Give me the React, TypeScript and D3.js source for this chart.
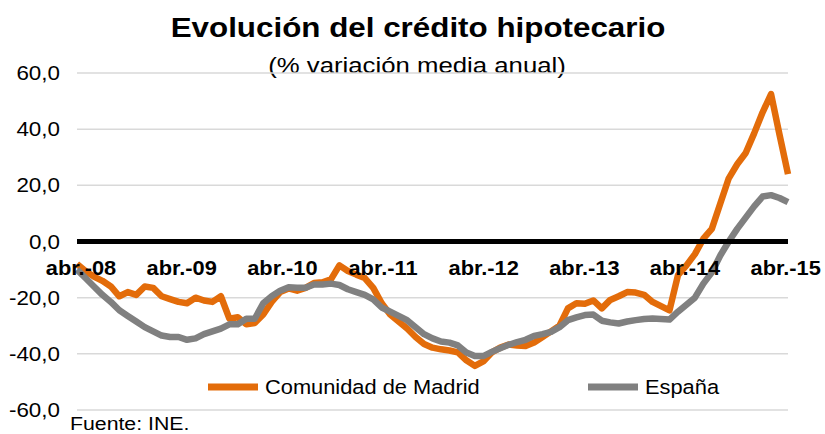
import React from "react";
import * as d3 from "d3";

const TITLE = "Evolución del crédito hipotecario";
const SUBTITLE = "(% variación media anual)";
const SOURCE = "Fuente: INE.";
const SERIES_NAMES = ["Comunidad de Madrid", "España"];

// monthly, abr.-08 .. abr.-15 (85 points)
const madrid = [
  -8, -10.5, -12.5, -14, -16, -19.5, -18, -19, -16, -16.5, -19.5, -20.5, -21.5,
  -22, -20, -21, -21.5, -19.5, -27.5, -27, -29.5, -29, -26, -21.5, -18,
  -16.7, -17.5, -16.5, -14.8, -14.5, -13.5, -8.5, -10.5, -11.8, -13, -16.5, -22,
  -26, -28.5, -31, -34, -36.5, -37.8, -38.4, -38.8, -39.5, -42.3, -44.3, -42.7,
  -39.5, -37.8, -36.7, -37, -37.2, -36, -34, -32, -30, -23.8, -22, -22.2,
  -21, -23.8, -20.8, -19.5, -18, -18.2, -19, -21.5, -23, -24.5, -12, -8.5,
  -4.5, 1, 4.5, 13.5, 22.5, 27.5, 31.5, 38.5, 46, 52.5, 38, 24,
];
const espana = [
  -10, -13, -16, -19, -21.5, -24.5, -26.5, -28.5, -30.5, -32, -33.5, -34, -34,
  -35, -34.5, -33, -32, -31, -29.5, -29.5, -27.5, -27.5, -22, -19.5, -17.5,
  -16.3, -16.5, -16.5, -15.3, -15.3, -15, -15.5, -17, -18, -19, -20.6, -23.5,
  -25, -26.5, -28, -30.5, -33, -34.5, -35.6, -36, -37, -39.5, -40.8, -40.8,
  -39.3, -38, -36.8, -35.8, -35, -33.6, -33, -32.2, -30.5, -28, -27, -26.2,
  -26, -28.2, -28.8, -29.2, -28.5, -28, -27.6, -27.4, -27.6, -27.8, -25, -22.5,
  -20, -15, -11, -5, 0, 4.5, 8.5, 12.5, 16, 16.5, 15.5, 14,
];
const xTickLabels = ["abr.-08", "abr.-09", "abr.-10", "abr.-11", "abr.-12", "abr.-13", "abr.-14", "abr.-15"];
const yTicks = [60, 40, 20, 0, -20, -40, -60];

const W = 825;
const H = 434;
const SX = 1.12;
const FONT = "'Liberation Sans', Arial, Helvetica, sans-serif";

function T({ x, y, children, size, weight = "normal", anchor = "start", sx = SX }: any) {
  return (
    <g transform={`translate(${x},${y}) scale(${sx},1)`}>
      <text x={0} y={0} fontSize={size} fontWeight={weight} textAnchor={anchor} fontFamily={FONT} fill="#000">
        {children}
      </text>
    </g>
  );
}

export default function App() {
  const x = d3.scaleLinear().domain([0, madrid.length - 1]).range([77, 788]);
  const y = d3.scaleLinear().domain([-60, 60]).range([410, 73]);
  const line = d3
    .line<number>()
    .x((_, i) => x(i))
    .y((d) => y(d));
  const fmt = (v: number) => v.toFixed(1).replace(".", ",");

  return (
    <svg width={W} height={H} style={{ position: "absolute", left: 0, top: 0, background: "#fff" }}>
      <rect width={W} height={H} fill="#fff" />
      <T x={418} y={37} size={28} weight="bold" anchor="middle">{TITLE}</T>
      <T x={417} y={73} size={23} anchor="middle">{SUBTITLE}</T>

      {yTicks.filter((t) => t !== 0).map((t) => (
        <line key={t} x1={x.range()[0]} x2={x.range()[1]} y1={y(t)} y2={y(t)} stroke="#d9d9d9" strokeWidth={1.5} />
      ))}
      {yTicks.map((t) => (
        <T key={"l" + t} x={60} y={y(t) + 7} size={20} anchor="end">{fmt(t)}</T>
      ))}

      <path d={line(madrid) || ""} fill="none" stroke="#E36C0A" strokeWidth={6.5} strokeLinejoin="round" />
      <path d={line(espana) || ""} fill="none" stroke="#808080" strokeWidth={6.5} strokeLinejoin="round" />

      <line x1={x.range()[0]} x2={x.range()[1]} y1={y(0)} y2={y(0)} stroke="#000" strokeWidth={5} />

      {xTickLabels.map((lab, k) => (
        <T key={lab} x={x(k * 12) + 4 - k * 0.9} y={275} size={19.5} weight="bold" anchor="middle">{lab}</T>
      ))}

      <line x1={208} x2={258} y1={387} y2={387} stroke="#E36C0A" strokeWidth={7} />
      <T x={265} y={394} size={19.5}>{SERIES_NAMES[0]}</T>
      <line x1={588} x2={638} y1={387} y2={387} stroke="#808080" strokeWidth={7} />
      <T x={645} y={394} size={19.5}>{SERIES_NAMES[1]}</T>

      <T x={70} y={430} size={19}>{SOURCE}</T>
    </svg>
  );
}
